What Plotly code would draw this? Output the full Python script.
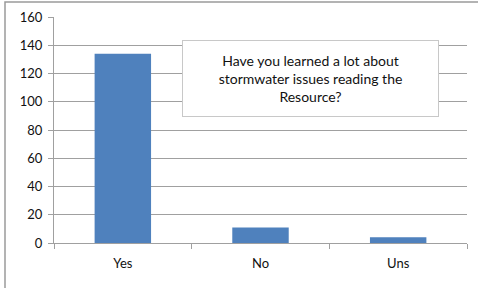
import plotly.graph_objects as go

categories = ["Yes", "No", "Uns"]
values = [134, 11, 4]
y_ticks = [0, 20, 40, 60, 80, 100, 120, 140, 160]
title_text = "Have you learned a lot about<br>stormwater issues reading the<br>Resource?"

W, H = 478, 288
L, R, T, B = 54, 11, 17, 45
pw, ph = W - L - R, H - T - B

def px(x):
    return (x - L) / pw

def py(y):
    return (H - B - y) / ph

fig = go.Figure()
fig.add_trace(go.Bar(x=categories, y=values, marker=dict(color="#4f81bd", line=dict(width=0)),
                     width=0.41))

fig.update_layout(
    width=W, height=H,
    margin=dict(l=L, r=R, t=T, b=B, autoexpand=False),
    paper_bgcolor="white", plot_bgcolor="white",
    showlegend=False,
    font=dict(family="Lato, Open Sans, sans-serif", size=13, color="#111111"),
    xaxis=dict(type="category", tickson="boundaries", ticks="outside", ticklen=5,
               tickcolor="#a0a0a0", showline=True, linecolor="#a0a0a0", linewidth=1,
               showgrid=False, tickfont=dict(size=13), range=[-0.5, 2.5],
               ticklabelstandoff=8),
    yaxis=dict(range=[0, 160], tickvals=y_ticks, ticks="outside", ticklen=5,
               tickcolor="#a0a0a0", showline=True, linecolor="#a0a0a0", linewidth=1,
               showgrid=True, gridcolor="#a0a0a0", gridwidth=1, zeroline=False,
               tickfont=dict(size=13), ticklabelstandoff=3),
    bargap=0.59,
)

# outer chart border (top and left visible)
fig.add_shape(type="rect", xref="paper", yref="paper",
              x0=px(5), x1=px(490), y0=py(300), y1=py(2),
              line=dict(color="#9a9a9a", width=1.5), layer="below")

fig.add_annotation(
    xref="paper", yref="paper", x=px(310.5), y=py(78.5),
    xanchor="center", yanchor="middle",
    text=title_text, showarrow=False,
    width=255, height=75, borderpad=0,
    bgcolor="white", bordercolor="#c8c8c8", borderwidth=1,
    font=dict(family="Lato, Open Sans, sans-serif", size=14, color="#111111"),
    align="center", valign="middle",
)

fig.write_html("out.html", config={"displayModeBar": False},
               post_script="document.body.style.margin='0';")
